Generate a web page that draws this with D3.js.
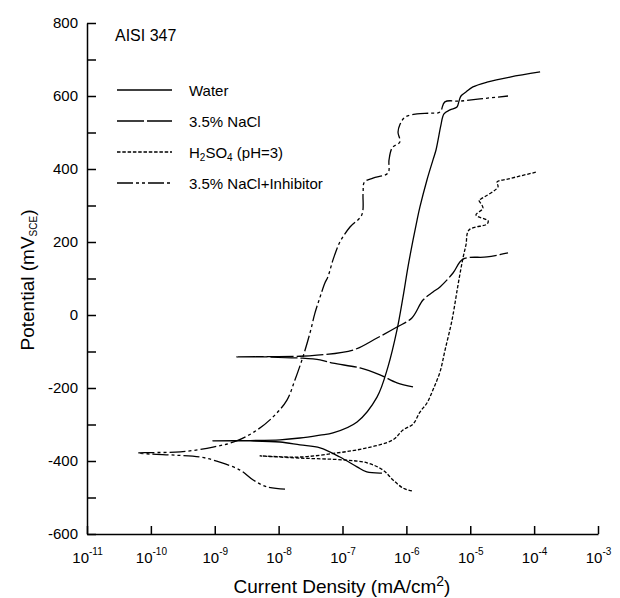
<!DOCTYPE html>
<html lang="en">
<head>
<meta charset="utf-8">
<title>AISI 347 polarization</title>
<script src="https://d3js.org/d3.v7.min.js"></script>
<style>
  body { margin: 0; background: #fff; }
  svg text { font-family: "Liberation Sans", Arial, sans-serif; fill: #000; }
</style>
</head>
<body>
<div id="chart"></div>
<script>
// current density (mA/cm2), potential (mV SCE)
const water = [
  [4.15e-7,-433],[2.4e-7,-430],[1.69e-7,-416],[9.1e-8,-389],[4.45e-8,-364],[2.16e-8,-356],
  [1.05e-8,-348],[3.6e-9,-345],[9.4e-10,-345],[3.6e-9,-344],[1.05e-8,-342],[2.16e-8,-337],
  [4.45e-8,-329],[7.1e-8,-323],[1.69e-7,-293],[3.47e-7,-225],[5.15e-7,-142],[7.13e-7,-41],
  [8.85e-7,49],[1.06e-6,132],[1.27e-6,205],[1.47e-6,260],[1.63e-6,296],[2.1e-6,370],
  [2.61e-6,425],[2.91e-6,452],[3.13e-6,479],[3.48e-6,521],[3.88e-6,551],[4.82e-6,562],
  [6.2e-6,570],[6.67e-6,586],[7.16e-6,600],[8.57e-6,611],[1.1e-5,625],[1.83e-5,638],
  [4.19e-5,652],[1.24e-4,666]
];
const nacl = [
  [1.27e-6,-197],[7.13e-7,-186],[3.86e-7,-164],[1.88e-7,-145],[7.1e-8,-132],[4.45e-8,-123],
  [2.16e-8,-118],[7.3e-9,-115],[2.23e-9,-115],[7.3e-9,-114],[2.16e-8,-113],[3.99e-8,-110],
  [1.46e-7,-96],[3.47e-7,-63],[7.13e-7,-33],[1.22e-6,-8],[1.82e-6,41],[2.61e-6,63],
  [3.36e-6,77],[5.37e-6,115],[7.69e-6,153],[1.83e-5,159],[3.9e-5,170]
];
const h2so4 = [
  [1.22e-6,-482],[8.85e-7,-474],[6.18e-7,-452],[4.31e-7,-425],[2.42e-7,-405],[1.02e-7,-397],
  [2.16e-8,-392],[5.1e-9,-386],[2.16e-8,-389],[8.2e-8,-378],[2.42e-7,-364],[6.18e-7,-342],
  [8.85e-7,-315],[1.27e-6,-299],[1.63e-6,-266],[2.1e-6,-241],[2.61e-6,-205],[3.36e-6,-156],
  [4.03e-6,-96],[5.18e-6,-14],[6.43e-6,82],[7.69e-6,156],[8.57e-6,192],[9.55e-6,233],
  [1.83e-5,249],[1.9e-5,258],[1.23e-5,274],[1.58e-5,293],[1.37e-5,315],[1.47e-5,318],
  [2.72e-5,351],[2.62e-5,364],[4.0e-5,373],[1.11e-4,392]
];
const inhib = [
  [1.26e-8,-477],[6.6e-9,-471],[4.0e-9,-452],[2.5e-9,-425],[1.2e-9,-403],[5.9e-10,-389],
  [2.4e-10,-384],[9.7e-11,-381],[6.3e-11,-378],[9.7e-11,-377],[2.9e-10,-375],[9.4e-10,-362],
  [2.2e-9,-345],[4.6e-9,-315],[8.2e-9,-279],[1.35e-8,-233],[1.8e-8,-178],[2.4e-8,-115],
  [3.1e-8,-49],[3.7e-8,5],[4.45e-8,49],[5.3e-8,88],[5.9e-8,104],[7.1e-8,151],[9.1e-8,200],
  [1.31e-7,241],[2.0e-7,274],[2.1e-7,334],[2.2e-7,364],[3.0e-7,375],[5.15e-7,389],
  [5.35e-7,425],[6.0e-7,458],[7.9e-7,474],[7.4e-7,501],[7.9e-7,521],[9.5e-7,542],
  [1.47e-6,551],[2.34e-6,553],[3.36e-6,556],[4.0e-6,584],[6.9e-6,586],[1.42e-5,592],[3.9e-5,600]
];

const seriesNames = ["Water", "3.5% NaCl", "H2SO4 (pH=3)", "3.5% NaCl+Inhibitor"];
const xTicks = [1e-11,1e-10,1e-9,1e-8,1e-7,1e-6,1e-5,1e-4,1e-3];
const xTickExp = ["-11","-10","-9","-8","-7","-6","-5","-4","-3"];
const yTicks = d3.range(-600, 801, 100);

const W = 620, H = 598;
const margin = {top: 23, right: 22, bottom: 64, left: 87};

const svg = d3.select("#chart").append("svg")
  .attr("width", W).attr("height", H);

const x = d3.scaleLog().domain([1e-11, 1e-3]).range([margin.left, W - margin.right]);
const y = d3.scaleLinear().domain([-600, 800]).range([H - margin.bottom, margin.top]);

// x axis, ticks pointing inward
const xAxis = d3.axisBottom(x).tickValues(xTicks).tickSizeInner(-8).tickSizeOuter(0).tickFormat(() => "");
const gx = svg.append("g").attr("transform", `translate(0,${H - margin.bottom})`).call(xAxis);
gx.selectAll(".tick text").each(function(d, i) {
  const t = d3.select(this).attr("y", 29).attr("dy", null).attr("font-size", 15);
  t.append("tspan").text("10");
  t.append("tspan").attr("font-size", 10).attr("dy", -8).text(xTickExp[i]);
});

// y axis
const yAxis = d3.axisLeft(y).tickValues(yTicks).tickSizeInner(-9).tickSizeOuter(0).tickPadding(9)
  .tickFormat(d => d % 200 === 0 ? d : "");
const gy = svg.append("g").attr("transform", `translate(${margin.left},0)`).call(yAxis);
gy.selectAll("text").attr("font-size", 15).attr("font-family", null);
gx.selectAll("text").attr("font-family", null);
svg.selectAll(".domain, .tick line").attr("stroke", "#000").attr("stroke-width", 1.5);

// curves
const line = d3.line().curve(d3.curveCatmullRom.alpha(0.5)).x(d => x(d[0])).y(d => y(d[1]));
const dashes = ["none", "27,3", "3.5,1.8", "16,3,3,3,3,3"];
[water, nacl, h2so4, inhib].forEach((s, i) => {
  svg.append("path").datum(s)
    .attr("d", line)
    .attr("fill", "none")
    .attr("stroke", "#000")
    .attr("stroke-width", 1.3)
    .attr("stroke-dasharray", dashes[i] === "none" ? null : dashes[i]);
});

// title + legend
svg.append("text").attr("x", 115).attr("y", 41).attr("font-size", 16).text("AISI 347");
const legY = [90, 121, 152, 183];
seriesNames.forEach((n, i) => {
  svg.append("line").attr("x1", 117).attr("x2", 172).attr("y1", legY[i]).attr("y2", legY[i])
    .attr("stroke", "#000").attr("stroke-width", 1.3)
    .attr("stroke-dasharray", dashes[i] === "none" ? null : dashes[i]);
  const t = svg.append("text").attr("x", 189).attr("y", legY[i] + 6).attr("font-size", 15);
  if (i === 2) {
    t.append("tspan").text("H");
    t.append("tspan").attr("font-size", 10).attr("dy", 3).text("2");
    t.append("tspan").attr("dy", -3).text("SO");
    t.append("tspan").attr("font-size", 10).attr("dy", 3).text("4");
    t.append("tspan").attr("dy", -3).text(" (pH=3)");
  } else {
    t.text(n);
  }
});

// axis titles
const xt = svg.append("text").attr("x", 342).attr("y", 593).attr("text-anchor", "middle").attr("font-size", 19);
xt.append("tspan").text("Current Density (mA/cm");
xt.append("tspan").attr("font-size", 14).attr("dy", -7).text("2");
xt.append("tspan").attr("dy", 7).text(")");

const yt = svg.append("text").attr("transform", "translate(34,280) rotate(-90)")
  .attr("text-anchor", "middle").attr("font-size", 19);
yt.append("tspan").text("Potential (mV");
yt.append("tspan").attr("font-size", 10).attr("dy", 3).text("SCE");
yt.append("tspan").attr("dy", -3).text(")");
</script>
</body>
</html>
